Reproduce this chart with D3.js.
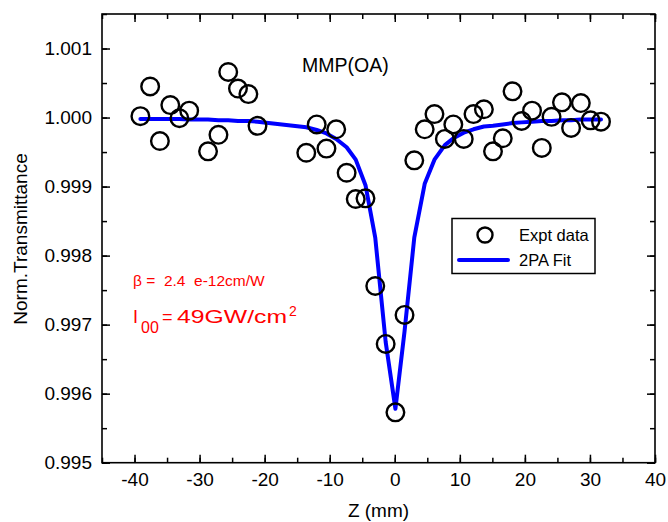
<!DOCTYPE html>
<html lang="en">
<head>
    <meta charset="UTF-8">
    <title>MMP(OA) open aperture Z-scan</title>
    <script src="https://cdn.jsdelivr.net/npm/d3@7/dist/d3.min.js"></script>
    <style>
        body { margin: 0; background: #fff; }
        svg { display: block; font-family: "Liberation Sans", Arial, sans-serif; }
    </style>
</head>
<body>
<script>

    // DATA
    const z_mm = [-39.1, -37.6, -36.1, -34.5, -33.1, -31.6, -28.7, -27.1, -25.6, -24.1, -22.5, -21.1,
                  -13.6, -12.0, -10.5, -9.0, -7.4, -6.0, -4.5, -3.0, -1.4, 0.1, 1.5, 3.0, 4.6, 6.1,
                  7.7, 9.0, 10.6, 12.1, 13.7, 15.1, 16.6, 18.1, 19.5, 21.1, 22.6, 24.1, 25.7, 27.1,
                  28.6, 30.1, 31.7]
    const expt = [1.00002, 1.00045, 0.99966, 1.00018, 0.99999, 1.00010, 0.99951, 0.99975, 1.00066, 1.00042, 1.00034, 0.99988,
                  0.99949, 0.99990, 0.99955, 0.99983, 0.99920, 0.99882, 0.99883, 0.99756, 0.99672, 0.99573, 0.99714, 0.99938, 0.99983, 1.00005,
                  0.99969, 0.99990, 0.99969, 1.00005, 1.00012, 0.99951, 0.99970, 1.00038, 0.99995, 1.00010, 0.99956, 1.00001, 1.00022, 0.99985,
                  1.00021, 0.99996, 0.99994]
    const fit = [0.99998, 0.99998, 0.99998, 0.99998, 0.99998, 0.99997, 0.99997, 0.99996, 0.99996, 0.99995, 0.99995, 0.99994,
                 0.99986, 0.99982, 0.99977, 0.99969, 0.99957, 0.99939, 0.99902, 0.99826, 0.99675, 0.99578, 0.99690, 0.99826, 0.99904, 0.99939,
                 0.99960, 0.99970, 0.99978, 0.99983, 0.99987, 0.99988, 0.99990, 0.99992, 0.99993, 0.99994, 0.99995, 0.99995, 0.99996, 0.99996,
                 0.99997, 0.99997, 0.99997]
    const x_ticks = [-40, -30, -20, -10, 0, 10, 20, 30, 40]
    const y_ticks = [0.995, 0.996, 0.997, 0.998, 0.999, 1.000, 1.001]

    const points = z_mm.map((z, i) => ({z: z, t: expt[i], f: fit[i]}))

    const W = 668, H = 522
    const m_left = 102, m_right = 655, m_top = 14, m_bottom = 462.7

    let svg = d3.select("body").append("svg").attr("width", W).attr("height", H)

    // SCALES
    let x_scale = d3.scaleLinear().domain([-45, 40]).range([m_left, m_right])
    let y_scale = d3.scaleLinear().domain([0.995, 1.0015]).range([m_bottom, m_top])

    // AXES (ticks pointing inward, mirrored on top/right)
    const minor_x = d3.range(-45, 41, 5)
    const minor_y = d3.range(0, 14).map(i => 0.995 + i * 0.0005)

    function style_axis(g, size) {
        g.select(".domain").remove()
        g.selectAll("line").attr("stroke", "#000").attr("stroke-width", 1.5)
        g.selectAll("text").style("font-size", size).attr("fill", "#000")
    }

    svg.append("g").attr("transform", `translate(0,${m_bottom})`)
        .call(d3.axisBottom(x_scale).tickValues(minor_x).tickSizeInner(-5).tickSizeOuter(0).tickFormat(""))
        .call(g => style_axis(g, "19px"))
    svg.append("g").attr("transform", `translate(0,${m_bottom})`)
        .call(d3.axisBottom(x_scale).tickValues(x_ticks).tickSizeInner(-8).tickSizeOuter(0).tickPadding(10).tickFormat(d => String(d)))
        .call(g => style_axis(g, "19px"))

    svg.append("g").attr("transform", `translate(0,${m_top})`)
        .call(d3.axisTop(x_scale).tickValues(minor_x).tickSizeInner(-5).tickSizeOuter(0).tickFormat(""))
        .call(g => style_axis(g, "19px"))
    svg.append("g").attr("transform", `translate(0,${m_top})`)
        .call(d3.axisTop(x_scale).tickValues(x_ticks).tickSizeInner(-8).tickSizeOuter(0).tickFormat(""))
        .call(g => style_axis(g, "19px"))

    svg.append("g").attr("transform", `translate(${m_left},0)`)
        .call(d3.axisLeft(y_scale).tickValues(minor_y).tickSizeInner(-5).tickSizeOuter(0).tickFormat(""))
        .call(g => style_axis(g, "19px"))
    svg.append("g").attr("transform", `translate(${m_left},0)`)
        .call(d3.axisLeft(y_scale).tickValues(y_ticks).tickSizeInner(-8).tickSizeOuter(0).tickPadding(10).tickFormat(d3.format(".3f")))
        .call(g => style_axis(g, "19px"))

    svg.append("g").attr("transform", `translate(${m_right},0)`)
        .call(d3.axisRight(y_scale).tickValues(minor_y).tickSizeInner(-5).tickSizeOuter(0).tickFormat(""))
        .call(g => style_axis(g, "19px"))
    svg.append("g").attr("transform", `translate(${m_right},0)`)
        .call(d3.axisRight(y_scale).tickValues(y_ticks).tickSizeInner(-8).tickSizeOuter(0).tickFormat(""))
        .call(g => style_axis(g, "19px"))

    // FRAME
    svg.append("rect").attr("x", m_left).attr("y", m_top)
        .attr("width", m_right - m_left).attr("height", m_bottom - m_top)
        .style("fill", "none").style("stroke", "#000").style("stroke-width", 1.6)

    // AXIS TITLES
    svg.append("text").attr("x", (m_left + m_right) / 2).attr("y", 517)
        .attr("text-anchor", "middle").style("font-size", "19px").text("Z (mm)")
    svg.append("text").attr("transform", "translate(27,239) rotate(-90)")
        .attr("text-anchor", "middle").style("font-size", "19px").text("Norm.Transmittance")

    // FIT LINE
    let fit_line = d3.line().x(d => x_scale(d.z)).y(d => y_scale(d.f))
    svg.append("path").datum(points).attr("d", fit_line)
        .style("fill", "none").style("stroke", "#0000ff").style("stroke-width", 4)
        .style("stroke-linejoin", "round").style("stroke-linecap", "round")

    // EXPERIMENT POINTS
    svg.append("g").selectAll("circle").data(points).join("circle")
        .attr("cx", d => x_scale(d.z)).attr("cy", d => y_scale(d.t)).attr("r", 8.8)
        .style("fill", "none").style("stroke", "#000").style("stroke-width", 2.4)

    // SAMPLE LABEL
    svg.append("text").attr("x", 302).attr("y", 72).style("font-size", "19.5px").text("MMP(OA)")

    // ANNOTATIONS
    svg.append("text").attr("x", 133).attr("y", 286).style("font-size", "15.5px").attr("fill", "#ff0000")
        .style("white-space", "pre").text("\u03b2 =  2.4  e-12cm/W")
    let t2 = svg.append("text").attr("x", 133).attr("y", 323).style("font-size", "18px").attr("fill", "#ff0000")
    t2.append("tspan").text("I")
    t2.append("tspan").attr("x", 141).attr("dy", 10).style("font-size", "16px").text("00")
    t2.append("tspan").attr("x", 162).attr("dy", -10).text("=")
    t2.append("tspan").attr("x", 177).attr("textLength", 110).attr("lengthAdjust", "spacingAndGlyphs").text("49GW/cm")
    t2.append("tspan").attr("x", 289).attr("dy", -7).style("font-size", "14px").text("2")

    // LEGEND
    svg.append("rect").attr("x", 452).attr("y", 218.5).attr("width", 143).attr("height", 55)
        .style("fill", "#fff").style("stroke", "#000").style("stroke-width", 1.5)
    svg.append("circle").attr("cx", 485).attr("cy", 235).attr("r", 7.5)
        .style("fill", "none").style("stroke", "#000").style("stroke-width", 2.4)
    svg.append("line").attr("x1", 459).attr("x2", 508).attr("y1", 260).attr("y2", 260)
        .style("stroke", "#0000ff").style("stroke-width", 4).style("stroke-linecap", "round")
    svg.append("text").attr("x", 519).attr("y", 241).style("font-size", "16.5px").text("Expt data")
    svg.append("text").attr("x", 519).attr("y", 266).style("font-size", "16.5px").text("2PA Fit")

</script>
</body>
</html>
